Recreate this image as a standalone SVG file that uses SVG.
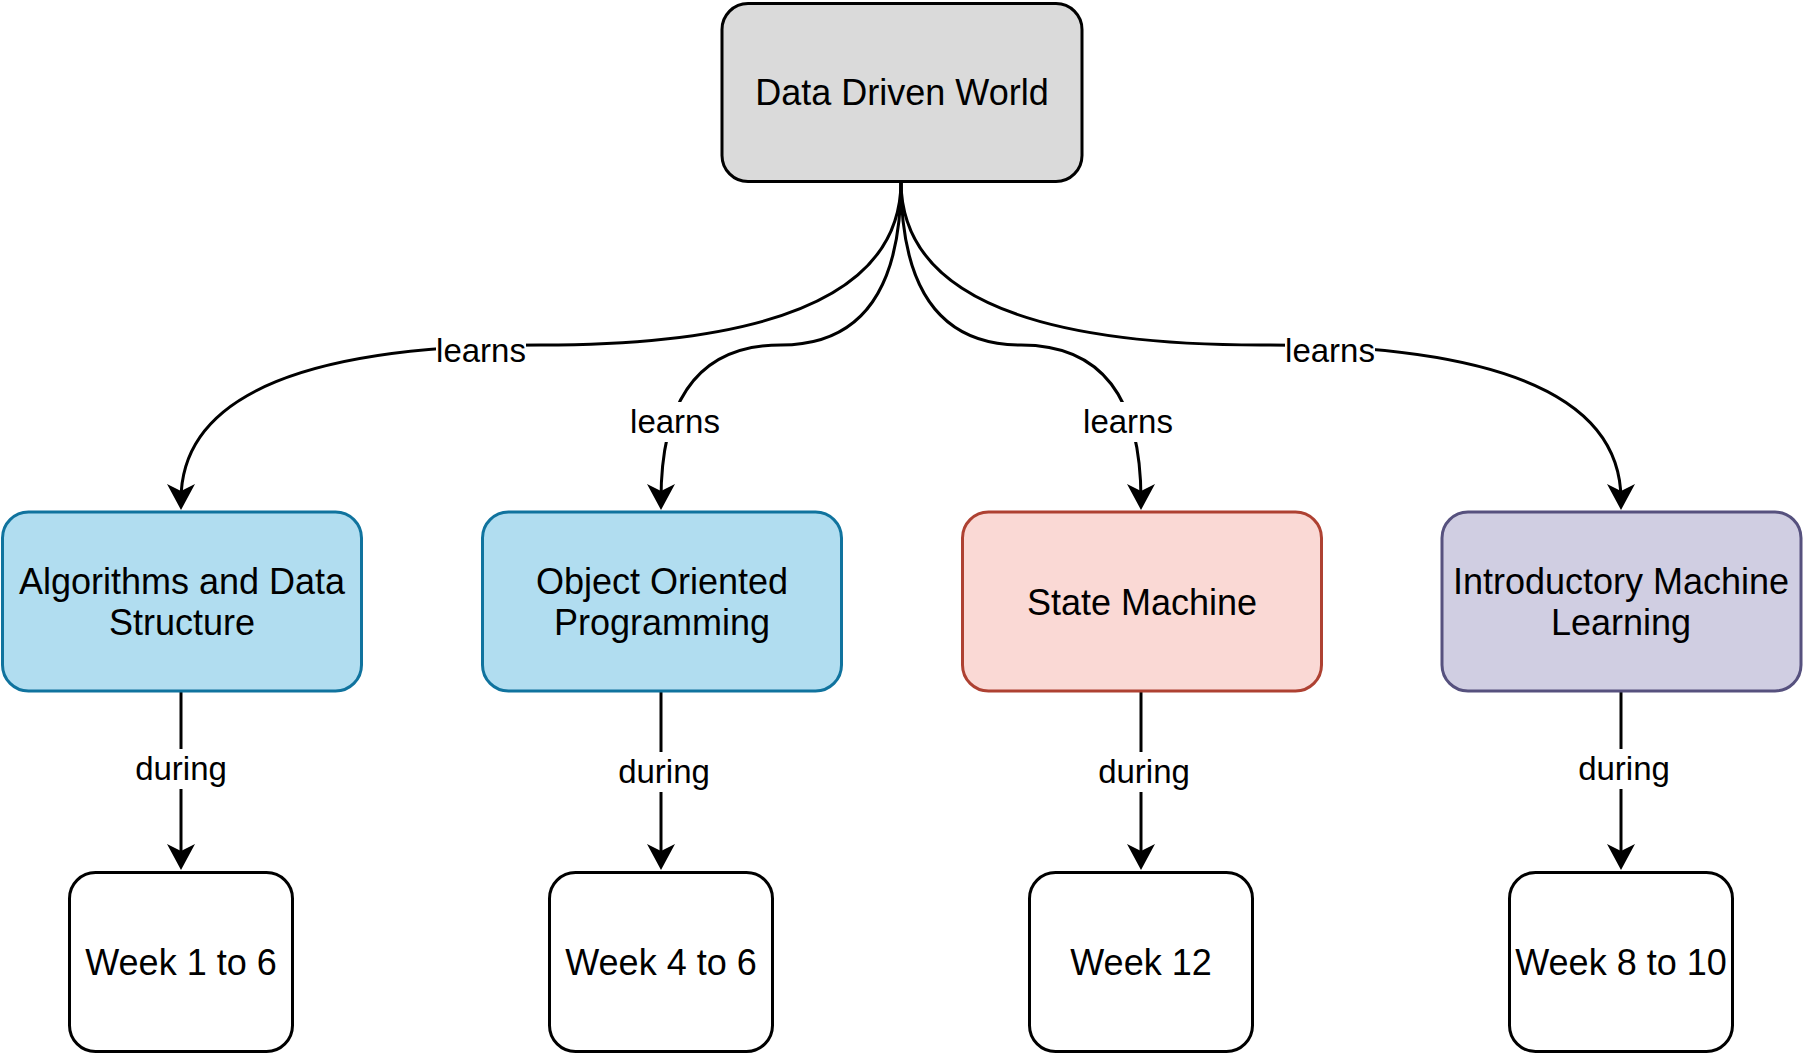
<svg xmlns="http://www.w3.org/2000/svg" width="1803" height="1053" viewBox="0 0 1803 1053">
<style>
.node{stroke-width:3}
.t{font-family:"Liberation Sans",Arial,Helvetica,sans-serif;font-size:36px;fill:#000;text-anchor:middle}
.lbl{font-family:"Liberation Sans",Arial,Helvetica,sans-serif;font-size:33px;fill:#000;text-anchor:middle}
.edge{fill:none;stroke:#000;stroke-width:3;marker-end:url(#arr)}
.bg{fill:#fff}
.gray{fill:#dadada;stroke:#000}
.blue{fill:#b1ddf0;stroke:#10739e}
.red{fill:#fad9d5;stroke:#ae4132}
.purple{fill:#d0cee2;stroke:#56517e}
.white{fill:#fff;stroke:#000}
</style>
<defs>
<marker id="arr" markerUnits="userSpaceOnUse" markerWidth="30" markerHeight="30" refX="16" refY="14" orient="auto" overflow="visible">
<path d="M0,0 L26,14 L0,28 L7,14 Z" fill="#000"/>
</marker>
</defs>
<rect width="1803" height="1053" fill="#fff"/>
<g id="connectors">
<path class="edge" d="M901,181 Q901,345 541,345 Q181,345 181,500"/>
<path class="edge" d="M901,181 Q901,345 781,345 Q661,345 661,500"/>
<path class="edge" d="M901,181 Q901,345 1021,345 Q1141,345 1141,500"/>
<path class="edge" d="M901,181 Q901,345 1261,345 Q1621,345 1621,500"/>
<path class="edge" d="M181,691 L181,860"/>
<path class="edge" d="M661,691 L661,860"/>
<path class="edge" d="M1141,691 L1141,860"/>
<path class="edge" d="M1621,691 L1621,860"/>
<rect class="bg" x="436" y="331" width="90" height="40"/>
<text class="lbl" x="481" y="362">learns</text>
<rect class="bg" x="630" y="402" width="90" height="40"/>
<text class="lbl" x="675" y="433">learns</text>
<rect class="bg" x="1083" y="402" width="90" height="40"/>
<text class="lbl" x="1128" y="433">learns</text>
<rect class="bg" x="1285" y="331" width="90" height="40"/>
<text class="lbl" x="1330" y="362">learns</text>
<rect class="bg" x="135" y="749" width="92" height="40"/>
<text class="lbl" x="181" y="780">during</text>
<rect class="bg" x="618" y="752" width="92" height="40"/>
<text class="lbl" x="664" y="783">during</text>
<rect class="bg" x="1098" y="752" width="92" height="40"/>
<text class="lbl" x="1144" y="783">during</text>
<rect class="bg" x="1578" y="749" width="92" height="40"/>
<text class="lbl" x="1624" y="780">during</text>
</g>
<g id="data-driven-world">
<rect class="node gray" x="722" y="3.5" width="360" height="178" rx="26"/>
<text class="t" x="902" y="105">Data Driven World</text>
</g>
<g id="algorithms">
<rect class="node blue" x="2.5" y="512" width="359" height="179" rx="26"/>
<text class="t" x="182" y="594">Algorithms and Data</text>
<text class="t" x="182" y="635">Structure</text>
</g>
<g id="oop">
<rect class="node blue" x="482.5" y="512" width="359" height="179" rx="26"/>
<text class="t" x="662" y="594">Object Oriented</text>
<text class="t" x="662" y="635">Programming</text>
</g>
<g id="state-machine">
<rect class="node red" x="962.5" y="512" width="359" height="179" rx="26"/>
<text class="t" x="1142" y="615">State Machine</text>
</g>
<g id="intro-ml">
<rect class="node purple" x="1442" y="512" width="359" height="179" rx="26"/>
<text class="t" x="1621" y="594">Introductory Machine</text>
<text class="t" x="1621" y="635">Learning</text>
</g>
<g id="week-1-6">
<rect class="node white" x="69.5" y="872.5" width="223" height="179" rx="26"/>
<text class="t" x="181" y="975">Week 1 to 6</text>
</g>
<g id="week-4-6">
<rect class="node white" x="549.5" y="872.5" width="223" height="179" rx="26"/>
<text class="t" x="661" y="975">Week 4 to 6</text>
</g>
<g id="week-12">
<rect class="node white" x="1029.5" y="872.5" width="223" height="179" rx="26"/>
<text class="t" x="1141" y="975">Week 12</text>
</g>
<g id="week-8-10">
<rect class="node white" x="1509.5" y="872.5" width="223" height="179" rx="26"/>
<text class="t" x="1621" y="975">Week 8 to 10</text>
</g>
</svg>
